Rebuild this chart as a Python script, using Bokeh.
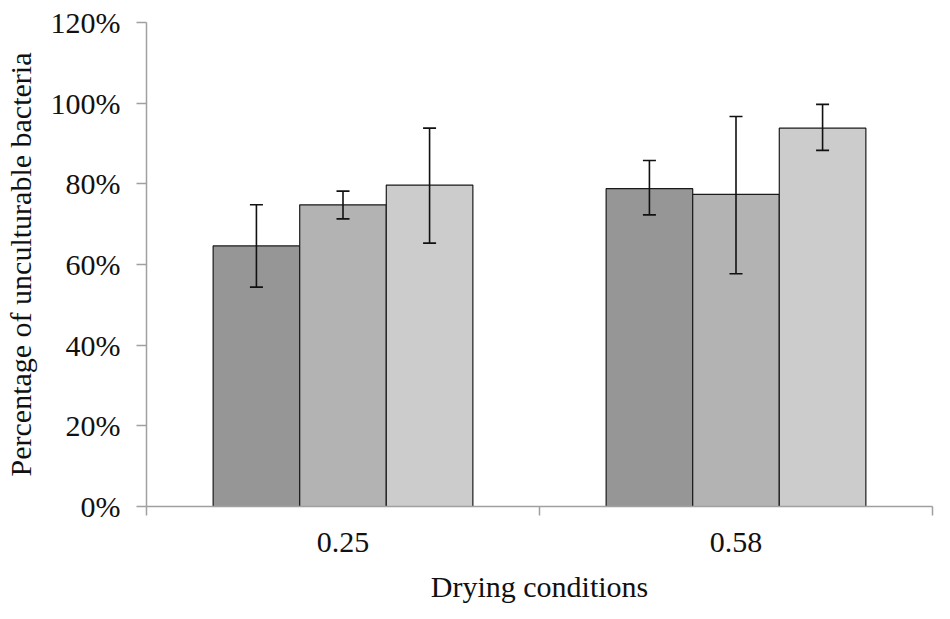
from bokeh.plotting import figure
from bokeh.models import (ColumnDataSource, Range1d, FixedTicker, PrintfTickFormatter,
                          Whisker, TeeHead)
from bokeh.embed import file_html
from bokeh.resources import INLINE

# ---- data ----
conditions = ["0.25", "0.58"]
series_names = ["Series 1", "Series 2", "Series 3"]
series_colors = ["#969696", "#b3b3b3", "#cccccc"]
values = {
    "Series 1": [64.6, 78.8],
    "Series 2": [74.8, 77.4],
    "Series 3": [79.7, 93.8],
}
err_upper = {
    "Series 1": [74.8, 85.8],
    "Series 2": [78.2, 96.7],
    "Series 3": [93.8, 99.7],
}
err_lower = {
    "Series 1": [54.4, 72.3],
    "Series 2": [71.3, 57.7],
    "Series 3": [65.3, 88.3],
}
y_ticks = [0, 20, 40, 60, 80, 100, 120]

FONT = "Liberation Serif"
bar_w = 0.2203
offsets = [-bar_w, 0.0, bar_w]

p = figure(width=934, height=606, output_backend="svg", toolbar_location=None,
           x_range=Range1d(0, 2), y_range=Range1d(0, 120),
           min_border_left=145, min_border_right=2, min_border_top=22,
           min_border_bottom=100)
p.outline_line_color = None
p.xgrid.visible = False
p.ygrid.visible = False
p.background_fill_color = "white"
p.border_fill_color = "white"

for s, name in enumerate(series_names):
    xs = [g + 0.5 + offsets[s] for g in range(len(conditions))]
    src = ColumnDataSource(dict(x=xs, top=values[name],
                                upper=err_upper[name], lower=err_lower[name]))
    p.vbar(x="x", top="top", bottom=0, width=bar_w, source=src,
           fill_color=series_colors[s], line_color="#1a1a1a", line_width=1.2)
    wh = Whisker(base="x", upper="upper", lower="lower", source=src,
                 line_color="#111111", line_width=1.6,
                 upper_head=TeeHead(size=13, line_color="#111111", line_width=1.6),
                 lower_head=TeeHead(size=13, line_color="#111111", line_width=1.6))
    wh.level = "overlay"
    p.add_layout(wh)

# y axis
ya = p.yaxis[0]
ya.ticker = FixedTicker(ticks=y_ticks)
ya.formatter = PrintfTickFormatter(format="%d%%")
ya.major_tick_in = 0
ya.major_tick_out = 10
ya.minor_tick_out = 0
ya.minor_tick_in = 0
ya.axis_line_color = "#a0a0a0"
ya.axis_line_width = 1.5
ya.major_tick_line_color = "#a0a0a0"
ya.major_tick_line_width = 1.5
ya.major_label_text_font = FONT
ya.major_label_text_font_size = "30px"
ya.major_label_text_color = "#111111"
ya.major_label_standoff = 16
ya.axis_label = "Percentage of unculturable bacteria"
ya.axis_label_text_font = FONT
ya.axis_label_text_font_size = "30px"
ya.axis_label_text_font_style = "normal"
ya.axis_label_text_color = "#111111"
ya.axis_label_standoff = 11

# x axis
xa = p.xaxis[0]
xa.ticker = FixedTicker(ticks=[0.5, 1.5], minor_ticks=[0, 1, 2])
xa.major_label_overrides = {0.5: conditions[0], 1.5: conditions[1]}
xa.major_tick_in = 0
xa.major_tick_out = 0
xa.minor_tick_in = 0
xa.minor_tick_out = 9
xa.minor_tick_line_color = "#a0a0a0"
xa.minor_tick_line_width = 1.5
xa.axis_line_color = "#a0a0a0"
xa.axis_line_width = 1.5
xa.major_label_text_font = FONT
xa.major_label_text_font_size = "30px"
xa.major_label_text_color = "#111111"
xa.major_label_standoff = 17
xa.axis_label = "Drying conditions"
xa.axis_label_text_font = FONT
xa.axis_label_text_font_size = "30px"
xa.axis_label_text_font_style = "normal"
xa.axis_label_text_color = "#111111"
xa.axis_label_standoff = 15

open("out.html", "w").write(file_html(p, INLINE))
